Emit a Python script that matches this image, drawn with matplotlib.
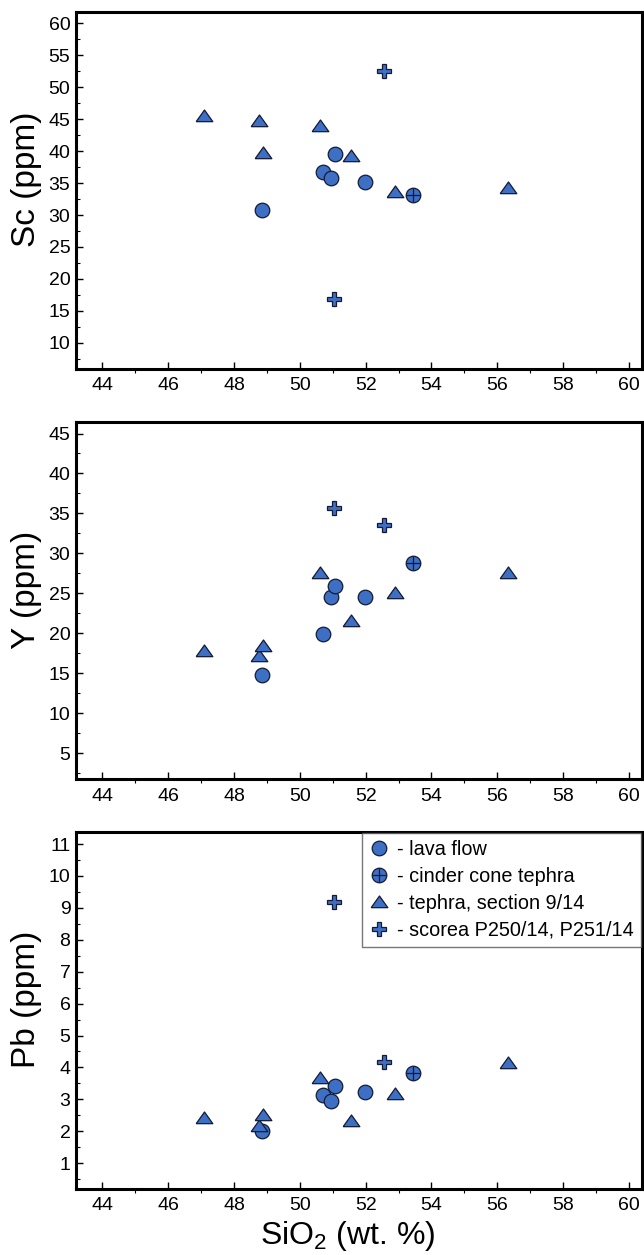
import matplotlib
matplotlib.use("Agg")
import matplotlib.pyplot as plt
from matplotlib.ticker import MultipleLocator

plt.rcParams['font.family'] = ['Liberation Sans', 'DejaVu Sans']
plt.rcParams['mathtext.default'] = 'regular'

# SiO2 (wt. %) per sample group
lava_si = [48.86, 50.72, 50.94, 51.06, 51.97]
cinder_si = [53.45]
tephra_si = [47.08, 48.77, 48.89, 50.61, 51.57, 52.90, 56.34]
scorea_si = [51.04, 52.57]

# Sc (ppm)
lava_sc = [30.8, 36.7, 35.8, 39.6, 35.2]
cinder_sc = [33.1]
tephra_sc = [45.5, 44.7, 39.7, 43.9, 39.3, 33.6, 34.2]
scorea_sc = [16.9, 52.5]

# Y (ppm)
lava_y = [14.8, 19.95, 24.6, 25.95, 24.6]
cinder_y = [28.75]
tephra_y = [17.8, 17.15, 18.4, 27.55, 21.5, 25.1, 27.5]
scorea_y = [35.65, 33.6]

# Pb (ppm)
lava_pb = [2.02, 3.13, 2.96, 3.42, 3.22]
cinder_pb = [3.84]
tephra_pb = [2.41, 2.15, 2.52, 3.66, 2.33, 3.16, 4.13]
scorea_pb = [9.18, 4.17]

labels = ['- lava flow', '- cinder cone tephra', '- tephra, section 9/14',
          '- scorea P250/14, P251/14']

blue = '#3d6fc4'
edge = '#141a33'
tri = [(-1, -0.62), (1, -0.62), (0, 0.78), (-1, -0.62)]

fig = plt.figure(figsize=(6.44, 12.55), dpi=100)

panels = [
    (0.706, lava_sc, cinder_sc, tephra_sc, scorea_sc, 'Sc (ppm)', (5.9, 61.8), 5, 2.5),
    (0.379, lava_y, cinder_y, tephra_y, scorea_y, 'Y (ppm)', (1.75, 46.4), 5, 2.5),
    (0.0526, lava_pb, cinder_pb, tephra_pb, scorea_pb, 'Pb (ppm)', (0.19, 11.38), 1, 0.5),
]

for i, (bottom, lava, cinder, tephra, scorea, ylab, ylim, major, minor) in enumerate(panels):
    ax = fig.add_axes([0.118, bottom, 0.879, 0.2845])
    h1, = ax.plot(lava_si, lava, 'o', ms=10.5, mfc=blue, mec=edge, mew=0.9, ls='none')
    h2a, = ax.plot(cinder_si, cinder, 'o', ms=10.5, mfc=blue, mec=edge, mew=0.9, ls='none')
    h2b, = ax.plot(cinder_si, cinder, '+', ms=10.5, mec=edge, mew=0.9, ls='none')
    h3, = ax.plot(tephra_si, tephra, marker=tri, ms=12, mfc=blue, mec=edge, mew=0.9, ls='none')
    h4, = ax.plot(scorea_si, scorea, 'P', ms=10.5, mfc=blue, mec=edge, mew=0.9, ls='none')

    ax.set_xlim(43.2, 60.4)
    ax.set_ylim(*ylim)
    ax.xaxis.set_major_locator(MultipleLocator(2))
    ax.xaxis.set_minor_locator(MultipleLocator(1))
    ax.yaxis.set_major_locator(MultipleLocator(major))
    ax.yaxis.set_minor_locator(MultipleLocator(minor))
    ax.set_yticks([t for t in ax.get_yticks() if ylim[0] < t < ylim[1] and t > 0])

    for s in ax.spines.values():
        s.set_linewidth(2.2)
    ax.tick_params(which='major', direction='in', length=5, width=1, labelsize=14, pad=4)
    ax.tick_params(axis='x', which='major', pad=6)
    ax.tick_params(axis='y', which='minor', direction='in', length=3, width=0.8)
    ax.tick_params(axis='x', which='minor', direction='out', length=3, width=0.8)
    ax.set_ylabel(ylab, fontsize=24, labelpad=0)
    ax.yaxis.set_label_coords(-0.06, 0.53)

    if i == 2:
        ax.set_xlabel('SiO$_2$ (wt. %)', fontsize=23, labelpad=0)
        ax.xaxis.set_label_coords(0.48, -0.085)
        leg = ax.legend([h1, (h2a, h2b), h3, h4], labels, loc='upper right',
                        borderaxespad=0.05, fontsize=14.3, frameon=True, fancybox=False,
                        handletextpad=0.45, handlelength=1.0, labelspacing=0.4,
                        borderpad=0.35, numpoints=1)
        leg.get_frame().set_edgecolor('#555555')
        leg.get_frame().set_linewidth(1.0)

fig.savefig('out.png', dpi=100)
